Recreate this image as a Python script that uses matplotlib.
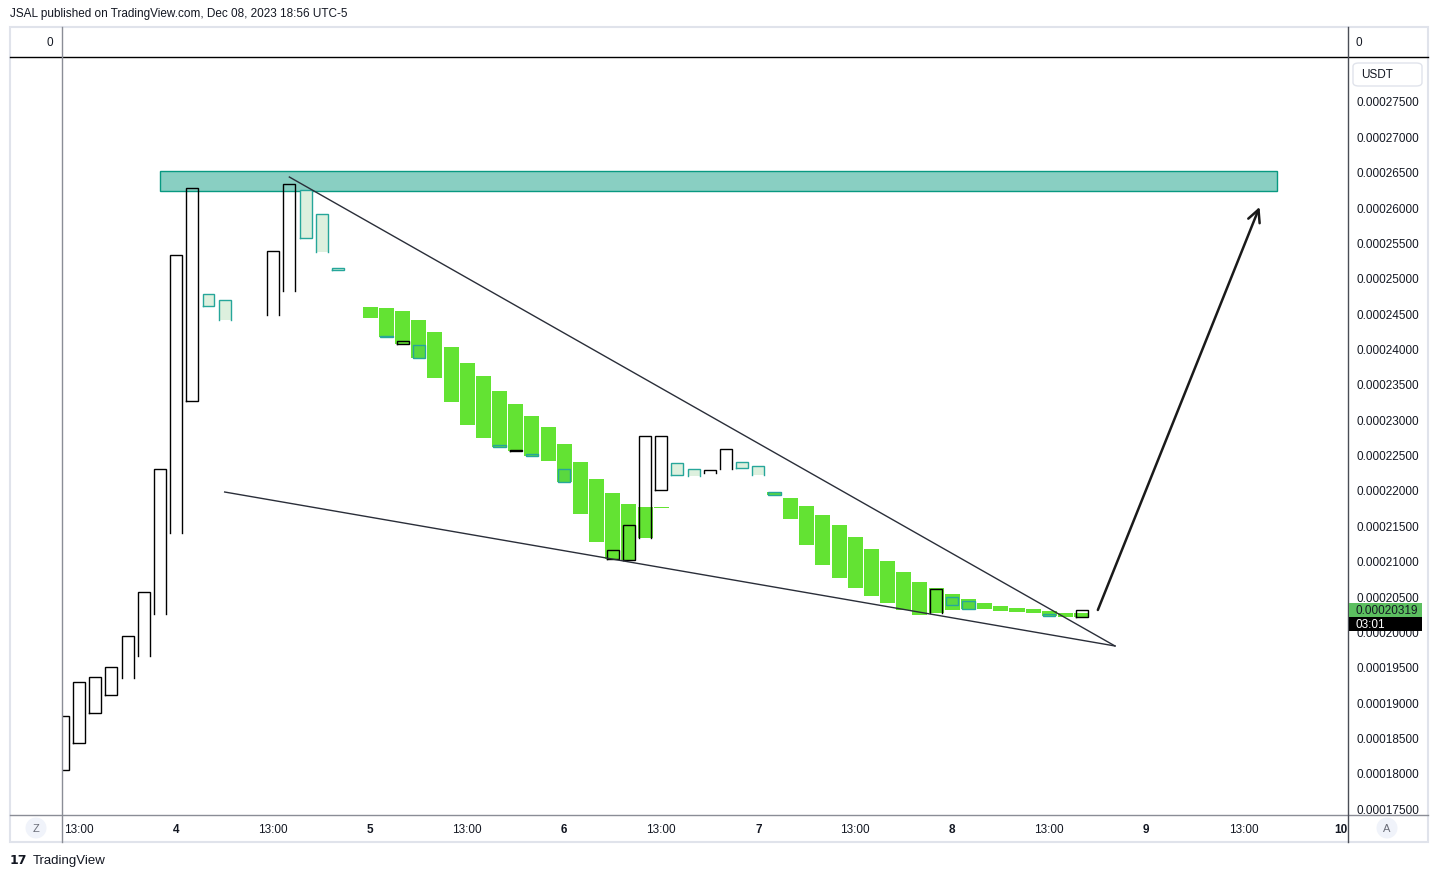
import matplotlib.pyplot as plt
from matplotlib.patches import Rectangle, FancyBboxPatch, Ellipse
from matplotlib.lines import Line2D
import numpy as np

# ---- data (2h candles, index 0 = first visible candle) ----
# filled green candles
green_idx = [19, 20, 21, 22, 23, 24, 25, 26, 27, 28, 29, 30, 31, 32, 33, 34, 35, 36, 37,
             44, 45, 46, 47, 48, 49, 50, 51, 52, 53, 54, 55, 56, 57, 58, 59, 60, 61, 62, 63]
green_top = [24587, 24573, 24531, 24403, 24234, 24022, 23795, 23611, 23399, 23216, 23046,
             22890, 22650, 22395, 22155, 21957, 21802, 21759, 21759,
             21971, 21886, 21773, 21646, 21505, 21335, 21165, 20996, 20840, 20699, 20614,
             20529, 20458, 20402, 20359, 20331, 20317, 20289, 20260, 20260]
green_bot = [24432, 24163, 24064, 23866, 23583, 23244, 22919, 22735, 22608, 22551, 22480,
             22410, 22113, 21660, 21264, 21024, 21010, 21321, 21740,
             21929, 21589, 21222, 20939, 20755, 20614, 20501, 20402, 20303, 20232, 20260,
             20303, 20317, 20317, 20289, 20274, 20260, 20218, 20204, 20204]

# hollow (black outline) candles, closed = bottom edge drawn
hollow_idx = [0, 1, 2, 3, 4, 5, 6, 7, 8, 13, 14, 21, 28, 34, 35, 36, 37, 40, 41, 54, 63]
hollow_top = [18804, 19285, 19355, 19497, 19935, 20557, 22296, 25322, 26270, 25379, 26326,
              24106, 22565, 21151, 21505, 22763, 22763, 22282, 22579, 20600, 20303]
hollow_bot = [18040, 18422, 18846, 19101, 19341, 19652, 20246, 21392, 23258, 24474, 24813,
              24064, 22551, 21024, 21010, 21321, 22000, 22240, 22296, 20260, 20204]
hollow_closed = [1, 1, 1, 1, 0, 0, 0, 0, 1, 0, 0, 1, 1, 1, 1, 0, 1, 0, 0, 0, 1]

# pale candles (light fill, teal outline)
pale_idx = [9, 10, 15, 16, 17, 38, 39, 42, 43]
pale_top = [24771, 24686, 26241, 25902, 25139, 22381, 22296, 22395, 22339]
pale_bot = [24601, 24403, 25563, 25365, 25111, 22212, 22197, 22311, 22212]
pale_closed = [1, 0, 1, 0, 1, 1, 0, 1, 0]

# teal outlined boxes sitting on green candles
inner_idx = [20, 22, 27, 29, 31, 44, 55, 56, 61]
inner_top = [24177, 24050, 22636, 22509, 22296, 21971, 20487, 20430, 20246]
inner_bot = [24163, 23866, 22608, 22480, 22113, 21929, 20373, 20317, 20218]

# resistance zone and drawings
zone_left, zone_right = 6.0, 75.1
zone_low, zone_high = 26227, 26510
upper_x, upper_y = [14.0, 65.06], [26425, 19794]
lower_x, lower_y = [10.0, 65.06], [21971, 19794]
arrow_start = (64.0, 20303)
arrow_end = (74.0, 26001)
last_price = "0.00020319"
countdown = "03:01"

tick_pos = [1, 7, 13, 19, 25, 31, 37, 43, 49, 55, 61, 67, 73, 79]
tick_lab = ["13:00", "4", "13:00", "5", "13:00", "6", "13:00", "7", "13:00", "8",
            "13:00", "9", "13:00", "10"]

SC = 1e-8
GREEN = "#63E333"
TEAL = "#26A69A"
PALE = "#DDF0DE"
DARK = "#131722"

W, H = 1438, 879
fig = plt.figure(figsize=(W / 100, H / 100), dpi=100)
fig.patch.set_facecolor("white")
ax = fig.add_axes([62 / W, 1 - 816 / H, (1348 - 62) / W, (816 - 57) / H])
ax.set_xlim(-0.06, 79.47)
ax.set_ylim(17404 * SC, 28136 * SC)
for s in ax.spines.values():
    s.set_visible(False)


def outline(k, top, bot, closed, color, hw=0.37, lw=1.0):
    x0, x1 = k - hw, k + hw
    if closed:
        ax.plot([x0, x0, x1, x1, x0], [bot, top, top, bot, bot], color=color, lw=lw,
                solid_joinstyle="miter", zorder=4)
    else:
        ax.plot([x0, x0, x1, x1], [bot, top, top, bot], color=color, lw=lw,
                solid_joinstyle="miter", zorder=4)


gt = np.array(green_top) * SC
gb = np.array(green_bot) * SC
ax.bar(green_idx, np.maximum(gt - gb, 2e-7), bottom=gb, width=0.93, color=GREEN,
       linewidth=0, zorder=3)

pt = np.array(pale_top) * SC
pb = np.array(pale_bot) * SC
ax.bar(pale_idx, pt - pb, bottom=pb, width=0.74, color=PALE, linewidth=0, zorder=3)
for k, t, b, c in zip(pale_idx, pt, pb, pale_closed):
    outline(k, t, b, c, TEAL)

it = np.array(inner_top) * SC
ib = np.array(inner_bot) * SC
ax.bar(inner_idx, it - ib, bottom=ib, width=0.76, color="#5AD83F", edgecolor=TEAL,
       linewidth=1.0, zorder=4)

ht = np.array(hollow_top) * SC
hb = np.array(hollow_bot) * SC
for k, t, b, c in zip(hollow_idx, ht, hb, hollow_closed):
    outline(k, t, b, c, "black")

ax.add_patch(Rectangle((zone_left, zone_low * SC), zone_right - zone_left,
                       (zone_high - zone_low) * SC, facecolor="#89CFC2",
                       edgecolor="#089981", lw=1.0, zorder=2))

ax.plot(upper_x, np.array(upper_y) * SC, color="#2A2E39", lw=1.0, zorder=5)
ax.plot(lower_x, np.array(lower_y) * SC, color="#2A2E39", lw=1.0, zorder=5)
ax.annotate("", xy=(arrow_end[0], arrow_end[1] * SC),
            xytext=(arrow_start[0], arrow_start[1] * SC),
            arrowprops=dict(arrowstyle="->", color="#1a1a1a", lw=1.8,
                            mutation_scale=22, shrinkA=0, shrinkB=0), zorder=6)

# axes ticks
ax.yaxis.tick_right()
yt = np.arange(17500, 27501, 500)
ax.set_yticks(yt * SC)
ax.set_yticklabels(["%.8f" % (v * SC) for v in yt])
ax.tick_params(axis="y", length=0, pad=6, labelsize=8.5, labelcolor=DARK)
ax.set_xticks(tick_pos)
ax.set_xticklabels(tick_lab)
ax.tick_params(axis="x", length=0, pad=6, labelsize=8.5, labelcolor=DARK)
for lab in ax.get_xticklabels() + ax.get_yticklabels():
    lab.set_fontfamily("Liberation Sans")
for lab in ax.get_xticklabels():
    if ":" not in lab.get_text():
        lab.set_fontweight("bold")

# frame and panes
def fline(x0, y0, x1, y1, color, lw=1.0):
    fig.add_artist(Line2D([x0 / W, x1 / W], [1 - y0 / H, 1 - y1 / H], color=color, lw=lw,
                          transform=fig.transFigure))


fig.add_artist(Rectangle((10 / W, 1 - 843 / H), 1418 / W, 815 / H, fill=False,
                         edgecolor="#E0E3EB", lw=1.5, transform=fig.transFigure))
fline(10, 57.5, 1428, 57.5, "black", 1.0)
fline(10, 816, 1428, 816, "#8A8D96", 1.0)
fline(62, 28, 62, 843, "#8A8D96", 1.0)
fline(1348, 28, 1348, 843, "#4A4D56", 1.0)

tkw = dict(fontsize=8.5, color=DARK, family="Liberation Sans", va="center")
fig.text(10 / W, 1 - 14.5 / H, "JSAL published on TradingView.com, Dec 08, 2023 18:56 UTC-5",
         **tkw)
fig.text(53 / W, 1 - 43 / H, "0", ha="right", **tkw)
fig.text(1356 / W, 1 - 43 / H, "0", ha="left", **tkw)

fig.add_artist(FancyBboxPatch((1353 / W, 1 - 87 / H), 69 / W, 23 / H,
                              boxstyle="round,pad=0,rounding_size=0.004",
                              facecolor="white", edgecolor="#E0E3EB", lw=1.0,
                              transform=fig.transFigure))
fig.text(1361 / W, 1 - 75 / H, "USDT", ha="left", **tkw)

fig.add_artist(Rectangle((1349 / W, 1 - 618 / H), 73 / W, 14 / H, facecolor="#5CBF60",
                         edgecolor="none", transform=fig.transFigure, zorder=5))
fig.text(1355 / W, 1 - 611 / H, last_price, ha="left", zorder=6, **tkw)
fig.add_artist(Rectangle((1349 / W, 1 - 632 / H), 73 / W, 14 / H, facecolor="black",
                         edgecolor="none", transform=fig.transFigure, zorder=5))
fig.text(1355 / W, 1 - 625 / H, countdown, ha="left", zorder=6, fontsize=8.5,
         color="white", family="Liberation Sans", va="center")

for cx, letter in [(36, "Z"), (1387, "A")]:
    fig.add_artist(Ellipse((cx / W, 1 - 829 / H), 21 / W, 21 / H, facecolor="#F0F3FA",
                           edgecolor="none", transform=fig.transFigure))
    fig.text(cx / W, 1 - 829 / H, letter, ha="center", fontsize=8, color="#6A6D78",
             family="Liberation Sans", va="center")

fig.text(10 / W, 1 - 861 / H, "17", fontsize=9, fontweight="heavy", color=DARK,
         family="DejaVu Sans", va="center")
fig.text(33 / W, 1 - 861 / H, "TradingView", fontsize=9.5, color=DARK,
         family="Liberation Sans", va="center")

fig.savefig("out.png", dpi=100)
